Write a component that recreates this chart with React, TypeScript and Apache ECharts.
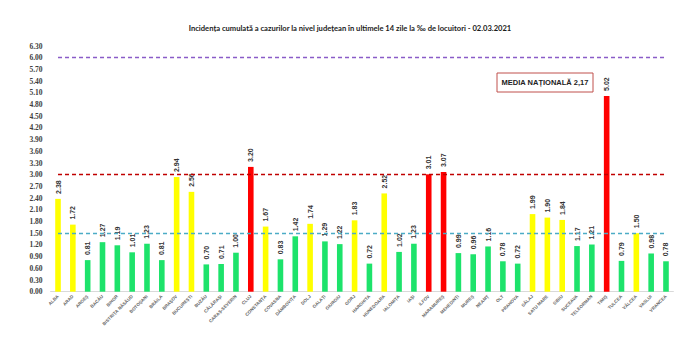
import React, { useEffect, useRef } from "react";
import * as echarts from "echarts";

const counties = [
  "ALBA", "ARAD", "ARGEȘ", "BACĂU", "BIHOR", "BISTRIȚA NĂSĂUD", "BOTOȘANI", "BRĂILA",
  "BRAȘOV", "BUCUREȘTI", "BUZĂU", "CĂLĂRAȘI", "CARAȘ-SEVERIN", "CLUJ", "CONSTANȚA",
  "COVASNA", "DÂMBOVIȚA", "DOLJ", "GALAȚI", "GIURGIU", "GORJ", "HARGHITA", "HUNEDOARA",
  "IALOMIȚA", "IAȘI", "ILFOV", "MARAMUREȘ", "MEHEDINȚI", "MUREȘ", "NEAMȚ", "OLT",
  "PRAHOVA", "SĂLAJ", "SATU MARE", "SIBIU", "SUCEAVA", "TELEORMAN", "TIMIȘ", "TULCEA",
  "VÂLCEA", "VASLUI", "VRANCEA",
];

const incidence = [
  2.38, 1.72, 0.81, 1.27, 1.19, 1.01, 1.23, 0.81, 2.94, 2.56, 0.70, 0.71, 1.00, 3.20,
  1.67, 0.83, 1.42, 1.74, 1.29, 1.22, 1.83, 0.72, 2.52, 1.02, 1.23, 3.01, 3.07, 0.99,
  0.96, 1.16, 0.78, 0.72, 1.99, 1.90, 1.84, 1.17, 1.21, 5.02, 0.79, 1.50, 0.98, 0.78,
];

const thresholds = [1.5, 3.0, 6.0];
const nationalAverage = "2,17";
const titleText =
  "Incidența cumulată a cazurilor la nivel județean în ultimele 14 zile la ‰ de locuitori - 02.03.2021";

const GREEN = "#1de36b";
const YELLOW = "#ffff00";
const RED = "#ff0000";

function barColor(v: number) {
  if (v > 3) return RED;
  if (v >= 1.5) return YELLOW;
  return GREEN;
}

export default function App() {
  const ref = useRef<HTMLDivElement>(null);
  useEffect(() => {
    if (!ref.current) return;
    const chart = echarts.init(ref.current, null, { renderer: "svg" });
    const last = counties.length - 1;
    const lineColors = ["#4bacc6", "#c00000", "#8a5cc8"];
    chart.setOption({
      animation: false,
      backgroundColor: "#ffffff",
      title: {
        text: titleText,
        left: "center",
        top: 19,
        textStyle: {
          fontFamily: "Lato",
          fontWeight: "bold",
          fontSize: 7.6,
          color: "#1a1a1a",
        },
      },
      grid: { left: 50.6, right: 26.6, top: 46, bottom: 56.3 },
      xAxis: {
        type: "category",
        data: counties,
        axisTick: { show: false },
        axisLine: { show: true, lineStyle: { color: "#d9d9d9", width: 1 } },
        axisLabel: {
          interval: 0,
          rotate: 45,
          fontSize: 4.5,
          fontWeight: "bold",
          fontFamily: "Liberation Sans",
          color: "#666",
          margin: 4,
        },
      },
      yAxis: {
        type: "value",
        min: 0,
        max: 6.3,
        interval: 0.3,
        splitLine: { show: false },
        axisLine: { show: false },
        axisTick: { show: false },
        axisLabel: {
          fontSize: 7.5,
          fontFamily: "Liberation Serif",
          fontWeight: "bold",
          color: "#404040",
          margin: 8,
          formatter: (v: number) => v.toFixed(2),
        },
      },
      series: [
        {
          type: "bar",
          data: incidence.map((v) => ({ value: v, itemStyle: { color: barColor(v) } })),
          barWidth: 5.6,
          label: {
            show: true,
            position: "top",
            rotate: 90,
            align: "left",
            verticalAlign: "middle",
            distance: 5,
            fontSize: 7,
            fontWeight: "bold",
            fontFamily: "Liberation Sans",
            color: "#333",
            formatter: (p: any) => Number(p.value).toFixed(2),
          },
          markLine: {
            silent: true,
            symbol: "none",
            label: { show: false },
            data: thresholds.map((t, i) => [
              {
                coord: [0, t],
                lineStyle: { color: lineColors[i], type: [4, 3], width: 1.4 },
              },
              { coord: [last, t] },
            ]),
          },
        },
      ],
      graphic: [
        {
          type: "rect",
          shape: { x: 497, y: 73, width: 96, height: 19 },
          style: { fill: "#fff", stroke: "#c0504d", lineWidth: 1 },
        },
        {
          type: "text",
          x: 545,
          y: 82.5,
          style: {
            text: "MEDIA NAȚIONALĂ " + nationalAverage,
            fontSize: 7.5,
            fontWeight: "bold",
            fontFamily: "Liberation Sans",
            fill: "#222",
            align: "center",
            verticalAlign: "middle",
          },
        },
      ],
    });
    return () => chart.dispose();
  }, []);
  return (
    <div
      ref={ref}
      style={{ position: "absolute", left: 0, top: 0, width: 700, height: 348 }}
    />
  );
}
